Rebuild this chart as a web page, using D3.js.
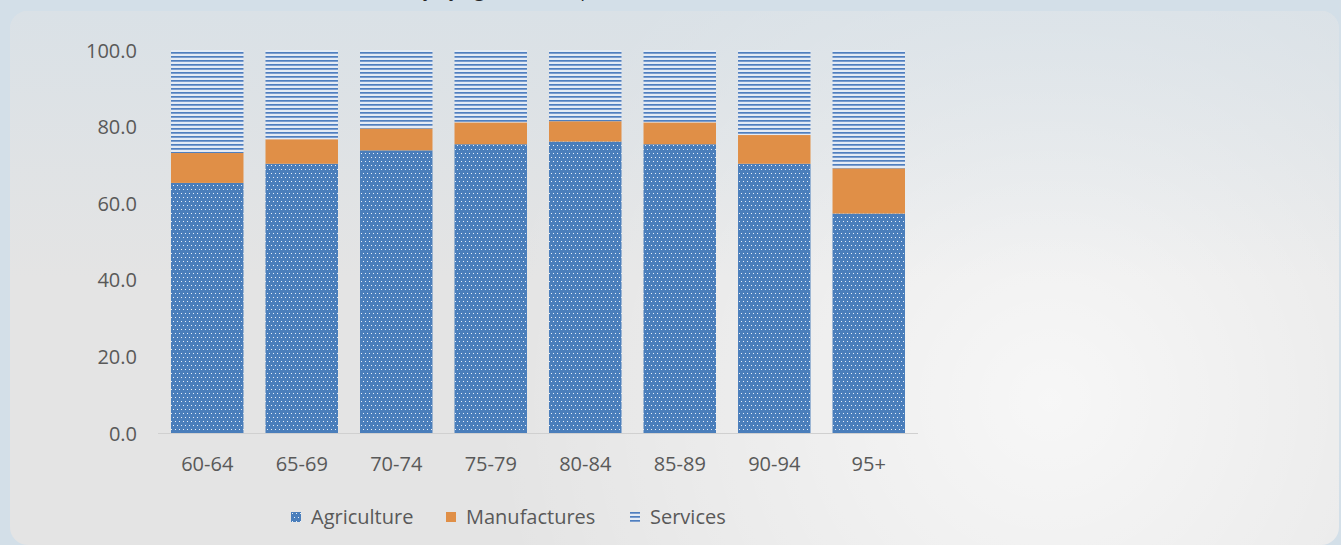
<!DOCTYPE html>
<html>
<head>
<meta charset="utf-8">
<script src="https://cdn.jsdelivr.net/npm/d3@7/dist/d3.min.js"></script>
<style>
  html, body { margin: 0; padding: 0; background: #d3dfe8; }
  svg { display: block; }
  text { font-family: "Open Sans", Lato, sans-serif; fill: #595959; }
</style>
</head>
<body>
<svg id="chart" width="1341" height="545"></svg>
<script>
// Age groups of the elderly
const categories = ["60-64", "65-69", "70-74", "75-79", "80-84", "85-89", "90-94", "95+"];
// Share by sector (%)
const agriculture  = [65.3, 70.3, 73.8, 75.4, 76.1, 75.4, 70.3, 57.3];
const manufactures = [7.8, 6.4, 5.7, 5.7, 5.3, 5.7, 7.5, 11.8];
const services     = [26.9, 23.3, 20.5, 18.9, 18.6, 18.9, 22.2, 30.9];
const seriesNames  = ["Agriculture", "Manufactures", "Services"];
const yTicks       = [0, 20, 40, 60, 80, 100];
const titleText    = "Elderly by age and occupation, 2010";

const rows = categories.map((c, i) => ({
  group: c,
  Agriculture: agriculture[i],
  Manufactures: manufactures[i],
  Services: services[i]
}));

const svg = d3.select("#chart");
const defs = svg.append("defs");

// Panel shading
const lg = defs.append("linearGradient").attr("id", "panelTint")
  .attr("x1", 0).attr("y1", 0).attr("x2", 0).attr("y2", 1);
lg.append("stop").attr("offset", "0%").attr("stop-color", "#d3dfe8").attr("stop-opacity", 0.6);
lg.append("stop").attr("offset", "50%").attr("stop-color", "#d3dfe8").attr("stop-opacity", 0.0);
const rg = defs.append("radialGradient").attr("id", "panelGlow")
  .attr("gradientUnits", "userSpaceOnUse")
  .attr("cx", 1050).attr("cy", 400).attr("r", 560);
rg.append("stop").attr("offset", "0%").attr("stop-color", "#ffffff").attr("stop-opacity", 0.7);
rg.append("stop").attr("offset", "100%").attr("stop-color", "#ffffff").attr("stop-opacity", 0);

// Fill patterns
const dots = defs.append("pattern").attr("id", "patAgri")
  .attr("patternUnits", "userSpaceOnUse").attr("width", 4).attr("height", 8);
dots.append("rect").attr("width", 4).attr("height", 8).attr("fill", "#4a7ebb");
dots.append("rect").attr("x", 1).attr("y", 1).attr("width", 1).attr("height", 1).attr("fill", "#e6eef8");
dots.append("rect").attr("x", 3).attr("y", 5).attr("width", 1).attr("height", 1).attr("fill", "#e6eef8");

const lines = defs.append("pattern").attr("id", "patServ")
  .attr("patternUnits", "userSpaceOnUse").attr("width", 4).attr("height", 4);
lines.append("rect").attr("width", 4).attr("height", 4).attr("fill", "#e4ebf5");
lines.append("rect").attr("y", 0).attr("width", 4).attr("height", 1).attr("fill", "#4f7fbf");
lines.append("rect").attr("y", 1).attr("width", 4).attr("height", 1).attr("fill", "#7b9dce");

const fills = {
  Agriculture: "url(#patAgri)",
  Manufactures: "#e08f47",
  Services: "url(#patServ)"
};

// Title (sits above the panel, only its lower edge shows)
svg.append("text").attr("x", 373).attr("y", -3)
  .attr("text-anchor", "start").style("font-size", "19px").style("fill", "#262626")
  .text(titleText);

// Panel
const panel = { x: 10, y: 11, w: 1329, h: 534, r: 18 };
["#e4e4e4", "url(#panelGlow)", "url(#panelTint)"].forEach(f => {
  svg.append("rect").attr("x", panel.x).attr("y", panel.y).attr("width", panel.w).attr("height", panel.h)
    .attr("rx", panel.r).attr("fill", f);
});

// Scales
const x = d3.scaleBand().domain(categories).range([158, 918])
  .paddingInner(0.233).paddingOuter(0.1375);
const y = d3.scaleLinear().domain([0, 100]).range([433, 50]);

const stacked = d3.stack().keys(seriesNames)(rows);

const g = svg.append("g");
g.selectAll("g.series").data(stacked).join("g")
  .attr("class", "series")
  .attr("fill", d => fills[d.key])
  .selectAll("rect").data(d => d).join("rect")
  .attr("x", d => x(d.data.group))
  .attr("width", x.bandwidth())
  .attr("y", d => y(d[1]))
  .attr("height", d => y(d[0]) - y(d[1]));

// Baseline
g.append("line").attr("x1", 158).attr("x2", 918).attr("y1", y(0) + 0.5).attr("y2", y(0) + 0.5)
  .attr("stroke", "#d0d0d0").attr("stroke-width", 1);

// Y axis labels
const yAxis = d3.axisLeft(y).tickValues(yTicks).tickFormat(d3.format(".1f")).tickSize(0).tickPadding(0);
const ya = svg.append("g").attr("transform", "translate(137,0)").call(yAxis);
ya.select(".domain").remove();
ya.selectAll("text").style("font-size", "20px").style("fill", "#595959")
  .style("font-family", "'Open Sans', sans-serif").attr("dy", "0.35em");

// X axis labels
const xAxis = d3.axisBottom(x).tickSize(0).tickPadding(0);
const xa = svg.append("g").attr("transform", "translate(0,464)").call(xAxis);
xa.select(".domain").remove();
xa.selectAll("text").style("font-size", "20px").style("fill", "#595959")
  .style("font-family", "'Open Sans', sans-serif").attr("dy", "0.35em");

// Legend
const legendX = [291, 446, 630];
const lgd = svg.append("g");
seriesNames.forEach((name, i) => {
  const item = lgd.append("g").attr("transform", `translate(${legendX[i]},512)`);
  item.append("rect").attr("width", 10).attr("height", 10).attr("fill", fills[name]);
  item.append("text").attr("x", 20).attr("y", 5).attr("dy", "0.35em")
    .style("font-size", "20px").text(name);
});
</script>
</body>
</html>
